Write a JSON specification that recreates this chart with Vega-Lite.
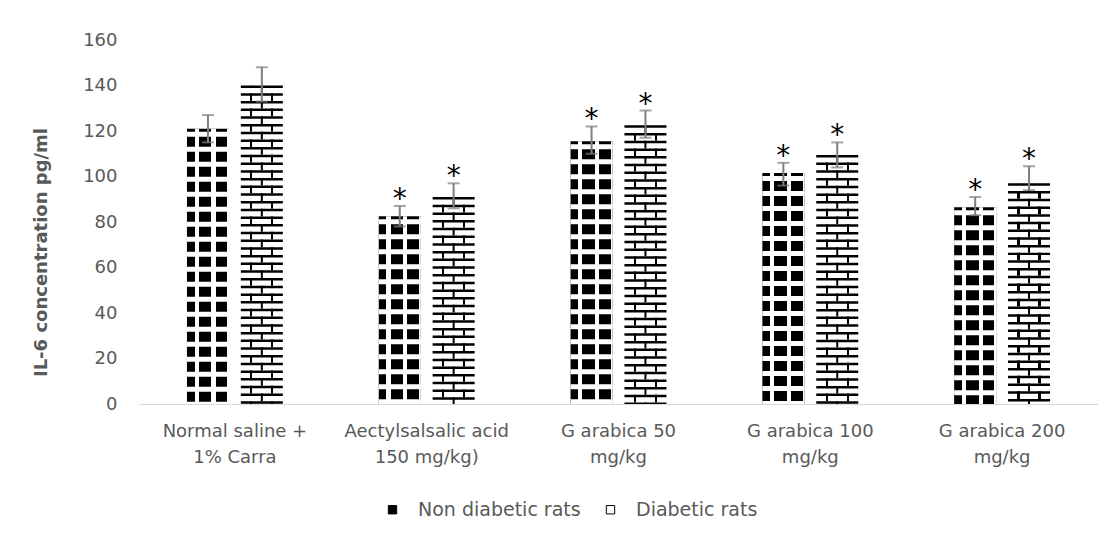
{
  "$schema": "https://vega.github.io/schema/vega-lite/v6.json",
  "width": 959,
  "height": 364,
  "autosize": "none",
  "padding": {"left": 139, "top": 40, "right": 17, "bottom": 133},
  "config": {"view": {"stroke": null}, "font": "DejaVu Sans"},
  "data": {
    "values": [
      {"group": "Normal saline  +|1% Carra", "series": "Non diabetic rats", "value": 121, "lo": 115, "hi": 127, "sig": ""},
      {"group": "Normal saline  +|1% Carra", "series": "Diabetic rats", "value": 140, "lo": 133, "hi": 148, "sig": ""},
      {"group": "Aectylsalsalic acid|150 mg/kg)", "series": "Non diabetic rats", "value": 82.5, "lo": 78, "hi": 87, "sig": "*"},
      {"group": "Aectylsalsalic acid|150 mg/kg)", "series": "Diabetic rats", "value": 91, "lo": 86, "hi": 97, "sig": "*"},
      {"group": "G arabica  50|mg/kg", "series": "Non diabetic rats", "value": 115.5, "lo": 110, "hi": 122, "sig": "*"},
      {"group": "G arabica  50|mg/kg", "series": "Diabetic rats", "value": 122.5, "lo": 117, "hi": 129, "sig": "*"},
      {"group": "G arabica  100|mg/kg", "series": "Non diabetic rats", "value": 101.5, "lo": 96, "hi": 106, "sig": "*"},
      {"group": "G arabica  100|mg/kg", "series": "Diabetic rats", "value": 109.5, "lo": 104, "hi": 115, "sig": "*"},
      {"group": "G arabica  200|mg/kg", "series": "Non diabetic rats", "value": 86.5, "lo": 83, "hi": 91, "sig": "*"},
      {"group": "G arabica  200|mg/kg", "series": "Diabetic rats", "value": 97, "lo": 94, "hi": 104.5, "sig": "*"}
    ]
  },
  "encoding": {
    "x": {
      "field": "group", "type": "nominal", "sort": null,
      "scale": {"paddingInner": 0.5, "paddingOuter": 0.25},
      "axis": {
        "title": null, "labelAngle": 0, "ticks": false,
        "domainColor": "#d9d9d9", "domainWidth": 1,
        "labelColor": "#595959", "labelFontSize": 18, "labelPadding": 18,
        "labelLineHeight": 26, "labelExpr": "split(datum.label, '|')"
      }
    },
    "xOffset": {
      "field": "series", "type": "nominal", "sort": ["Non diabetic rats", "Diabetic rats"],
      "scale": {"paddingInner": 0.22, "paddingOuter": 0}
    }
  },
  "layer": [
    {
      "mark": {"type": "bar"},
      "encoding": {
        "y": {
          "field": "value", "type": "quantitative", "title": "IL-6 concentration pg/ml",
          "scale": {"domain": [0, 160]},
          "axis": {
            "values": [0, 20, 40, 60, 80, 100, 120, 140, 160],
            "grid": false, "domain": false, "ticks": false,
            "labelColor": "#595959", "labelFontSize": 18, "labelPadding": 22,
            "titleColor": "#595959", "titleFontSize": 18, "titleFontWeight": "bold",
            "titleX": -89, "titleY": 212
          }
        },
        "color": {
          "field": "series", "type": "nominal", "sort": ["Non diabetic rats", "Diabetic rats"],
          "scale": {"range": ["black", "white"]},
          "legend": {
            "title": null, "orient": "none", "direction": "horizontal",
            "legendX": 244, "legendY": 460,
            "symbolType": "square", "symbolSize": 70, "symbolStrokeColor": "black", "symbolStrokeWidth": 1,
            "labelColor": "#595959", "labelFontSize": 19, "labelOffset": 16, "labelLimit": 0, "columnPadding": 20
          }
        }
      }
    },
    {
      "transform": [{"filter": "datum.series === 'Non diabetic rats'"}],
      "mark": {"type": "rule", "color": "white", "strokeWidth": 42, "strokeDash": [5, 10], "strokeDashOffset": 12},
      "encoding": {
        "y": {"field": "value", "type": "quantitative", "title": "IL-6 concentration pg/ml"},
        "y2": {"datum": 0}
      }
    },
    {
      "transform": [{"filter": "datum.series === 'Non diabetic rats'"}],
      "mark": {
        "type": "bar",
        "fill": {
          "gradient": "linear", "x1": 0, "y1": 0, "x2": 1, "y2": 0,
          "stops": [
            {"offset": 0, "color": "rgba(255,255,255,0)"},
            {"offset": 0.18, "color": "rgba(255,255,255,0)"},
            {"offset": 0.18, "color": "white"},
            {"offset": 0.28, "color": "white"},
            {"offset": 0.28, "color": "rgba(255,255,255,0)"},
            {"offset": 0.58, "color": "rgba(255,255,255,0)"},
            {"offset": 0.58, "color": "white"},
            {"offset": 0.68, "color": "white"},
            {"offset": 0.68, "color": "rgba(255,255,255,0)"},
            {"offset": 0.96, "color": "rgba(255,255,255,0)"},
            {"offset": 0.96, "color": "white"},
            {"offset": 1, "color": "white"}
          ]
        }
      },
      "encoding": {
        "y": {"field": "value", "type": "quantitative", "title": "IL-6 concentration pg/ml"}
      }
    },
    {
      "transform": [{"filter": "datum.series === 'Diabetic rats'"}],
      "mark": {
        "type": "bar",
        "fill": {
          "gradient": "linear", "x1": 0, "y1": 0, "x2": 1, "y2": 0,
          "stops": [
            {"offset": 0, "color": "rgba(0,0,0,0)"},
            {"offset": 0.225, "color": "rgba(0,0,0,0)"},
            {"offset": 0.225, "color": "black"},
            {"offset": 0.275, "color": "black"},
            {"offset": 0.275, "color": "rgba(0,0,0,0)"},
            {"offset": 0.725, "color": "rgba(0,0,0,0)"},
            {"offset": 0.725, "color": "black"},
            {"offset": 0.775, "color": "black"},
            {"offset": 0.775, "color": "rgba(0,0,0,0)"},
            {"offset": 1, "color": "rgba(0,0,0,0)"}
          ]
        }
      },
      "encoding": {
        "y": {"field": "value", "type": "quantitative", "title": "IL-6 concentration pg/ml"}
      }
    },
    {
      "transform": [{"filter": "datum.series === 'Diabetic rats'"}],
      "mark": {"type": "rule", "color": "white", "strokeWidth": 42, "strokeDash": [7.7, 7.7]},
      "encoding": {
        "y": {"field": "value", "type": "quantitative", "title": "IL-6 concentration pg/ml"},
        "y2": {"datum": 0}
      }
    },
    {
      "transform": [{"filter": "datum.series === 'Diabetic rats'"}],
      "mark": {"type": "rule", "color": "black", "strokeWidth": 2, "strokeDash": [7.7, 7.7]},
      "encoding": {
        "y": {"field": "value", "type": "quantitative", "title": "IL-6 concentration pg/ml"},
        "y2": {"datum": 0}
      }
    },
    {
      "transform": [{"filter": "datum.series === 'Diabetic rats'"}],
      "mark": {"type": "rule", "color": "black", "strokeWidth": 42, "strokeDash": [2.5, 5.2]},
      "encoding": {
        "y": {"field": "value", "type": "quantitative", "title": "IL-6 concentration pg/ml"},
        "y2": {"datum": 0}
      }
    },
    {
      "mark": {"type": "rule", "color": "#7f7f7f", "strokeWidth": 2},
      "encoding": {
        "y": {"field": "lo", "type": "quantitative", "title": "IL-6 concentration pg/ml"},
        "y2": {"field": "hi"}
      }
    },
    {
      "mark": {"type": "tick", "color": "#7f7f7f", "orient": "horizontal", "size": 12, "thickness": 2},
      "encoding": {
        "y": {"field": "lo", "type": "quantitative", "title": "IL-6 concentration pg/ml"}
      }
    },
    {
      "mark": {"type": "tick", "color": "#7f7f7f", "orient": "horizontal", "size": 12, "thickness": 2},
      "encoding": {
        "y": {"field": "hi", "type": "quantitative", "title": "IL-6 concentration pg/ml"}
      }
    },
    {
      "mark": {"type": "text", "font": "DejaVu Sans", "fontSize": 28, "color": "black", "baseline": "alphabetic", "dy": 2},
      "encoding": {
        "y": {"field": "hi", "type": "quantitative", "title": "IL-6 concentration pg/ml"},
        "text": {"field": "sig"}
      }
    }
  ]
}
